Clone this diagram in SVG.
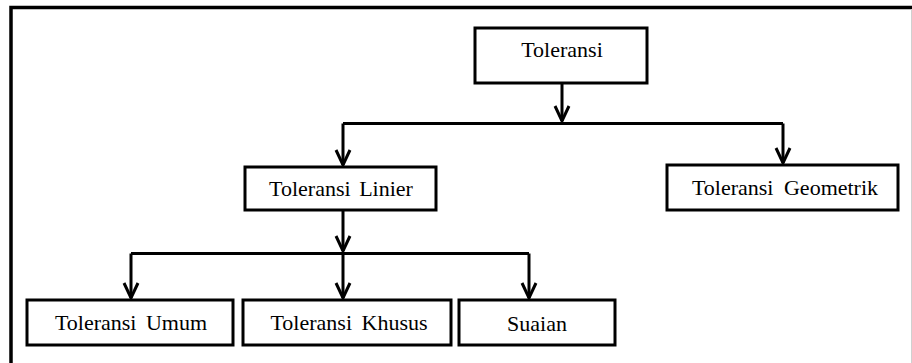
<svg xmlns="http://www.w3.org/2000/svg" width="912" height="363" viewBox="0 0 912 363">
<style>
.box{fill:#fff;stroke:#000;stroke-width:3}
.lbl{font-family:"Liberation Serif","Times New Roman","DejaVu Serif",serif;font-size:22px;fill:#000;text-anchor:middle}
.conn{fill:none;stroke:#000;stroke-width:3}
</style>
<defs>
<marker id="arr" markerUnits="userSpaceOnUse" markerWidth="24" markerHeight="24" viewBox="-20 -12 24 24" refX="0" refY="0" orient="auto">
<path d="M-15,-7 L0,0 L-15,7" fill="none" stroke="#000" stroke-width="3"/>
</marker>
</defs>
<rect width="912" height="363" fill="#fff"/>
<path d="M11,370 V7.5 H912" fill="none" stroke="#000" stroke-width="3.5"/>
<line x1="911.5" y1="9" x2="911.5" y2="363" stroke="#d0d0d0" stroke-width="1"/>
<g id="connectors">
<path class="conn" d="M562,83 V121" marker-end="url(#arr)"/>
<path class="conn" d="M343,123.5 H783"/>
<path class="conn" d="M343,123.5 V165" marker-end="url(#arr)"/>
<path class="conn" d="M783,123.5 V163" marker-end="url(#arr)"/>
<path class="conn" d="M343,210 V251" marker-end="url(#arr)"/>
<path class="conn" d="M131,253.5 H529"/>
<path class="conn" d="M131,253.5 V298" marker-end="url(#arr)"/>
<path class="conn" d="M343,253.5 V298" marker-end="url(#arr)"/>
<path class="conn" d="M529,253.5 V298" marker-end="url(#arr)"/>
</g>
<g id="toleransi"><rect class="box" x="475" y="28" width="172" height="55"/><text class="lbl" x="562" y="57" font-family="Liberation Serif, serif">Toleransi</text></g>
<g id="linier"><rect class="box" x="245" y="167" width="191" height="43"/><text class="lbl" x="341" y="196" font-family="Liberation Serif, serif" word-spacing="3">Toleransi Linier</text></g>
<g id="geometrik"><rect class="box" x="667" y="165" width="231" height="45"/><text class="lbl" x="785" y="195" font-family="Liberation Serif, serif" word-spacing="5">Toleransi Geometrik</text></g>
<g id="umum"><rect class="box" x="27" y="300" width="206" height="45"/><text class="lbl" x="131" y="330" font-family="Liberation Serif, serif" word-spacing="4">Toleransi Umum</text></g>
<g id="khusus"><rect class="box" x="243" y="300" width="208" height="45"/><text class="lbl" x="349" y="330" font-family="Liberation Serif, serif" word-spacing="4">Toleransi Khusus</text></g>
<g id="suaian"><rect class="box" x="459" y="300" width="156" height="45"/><text class="lbl" x="537" y="331" font-family="Liberation Serif, serif">Suaian</text></g>
</svg>
